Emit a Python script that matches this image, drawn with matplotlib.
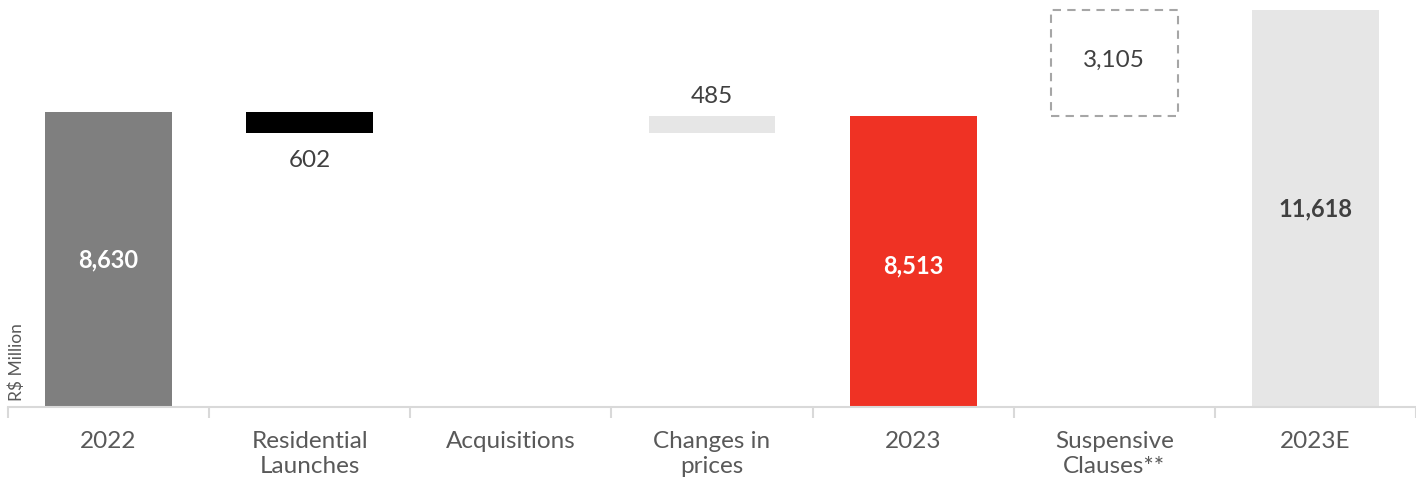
import matplotlib
matplotlib.use("Agg")
import matplotlib.pyplot as plt
from matplotlib.patches import Rectangle

plt.rcParams['font.family'] = ['Lato', 'DejaVu Sans']

# data
categories = ["2022", "Residential\nLaunches", "Acquisitions", "Changes in\nprices",
              "2023", "Suspensive\nClauses**", "2023E"]
start_2022 = 8630
launches = -602
acquisitions = 0
price_change = 485
total_2023 = 8513
suspensive = 3105
total_2023e = 11618

fig = plt.figure(figsize=(14.16, 4.79), dpi=100)
ax = fig.add_axes([8 / 1416, 72 / 479, 1 - 8 / 1416, 407 / 479])

w = 0.63
txt = '#404040'
fs = 17.5

# totals
ax.bar(0, start_2022, width=w, color='#7f7f7f')
ax.bar(4, total_2023, width=w, color='#ef3224')
ax.bar(6, total_2023e, width=w, color='#e6e6e6')

# steps
lvl = start_2022 + launches
ax.bar(1, -launches, bottom=lvl, width=w, color='#000000')
ax.text(1, lvl - 500, f"{-launches:,}", ha='center', va='top', fontsize=fs, color=txt)

lvl2 = lvl + acquisitions
ax.bar(3, price_change, bottom=lvl2, width=w, color='#e6e6e6')
ax.text(3, lvl2 + price_change + 270, f"{price_change:,}", ha='center', va='bottom',
        fontsize=fs, color=txt)

# dashed box for suspensive clauses
ax.add_patch(Rectangle((5 - w / 2, total_2023), w, suspensive, fill=False,
                       edgecolor='#a6a6a6', linestyle=(0, (4, 3)), linewidth=1.5))
ax.text(5, total_2023 + suspensive / 2 + 80, f"{suspensive:,}", ha='center', va='center',
        fontsize=fs, color=txt)

# labels inside totals
ax.text(0, start_2022 / 2, f"{start_2022:,}", ha='center', va='center',
        fontsize=17, color='white', fontweight='bold')
ax.text(4, total_2023 / 2 - 130, f"{total_2023:,}", ha='center', va='center',
        fontsize=17, color='white', fontweight='bold')
ax.text(6, total_2023e / 2, f"{total_2023e:,}", ha='center', va='center',
        fontsize=17, color=txt, fontweight='bold')

ax.set_xlim(-0.5, 6.44)
ax.set_ylim(0, 11907)

ax.set_xticks(range(len(categories)))
ax.set_xticklabels(categories, fontsize=fs, color='#595959', linespacing=1.25)
ax.tick_params(axis='x', length=0, pad=17)
ax.set_xticks([i + 0.5 for i in range(-1, 7)], minor=True)
ax.tick_params(axis='x', which='minor', length=8, color='#d9d9d9', width=1.5)
ax.set_yticks([])

for s in ['top', 'right', 'left']:
    ax.spines[s].set_visible(False)
ax.spines['bottom'].set_color('#d9d9d9')
ax.spines['bottom'].set_linewidth(1.5)

fig.text(17 / 1416, 1 - 362 / 479, "R$ Million", rotation=90, ha='center', va='center',
         fontsize=12.5, color='#595959')

fig.savefig("out.png", dpi=100)
